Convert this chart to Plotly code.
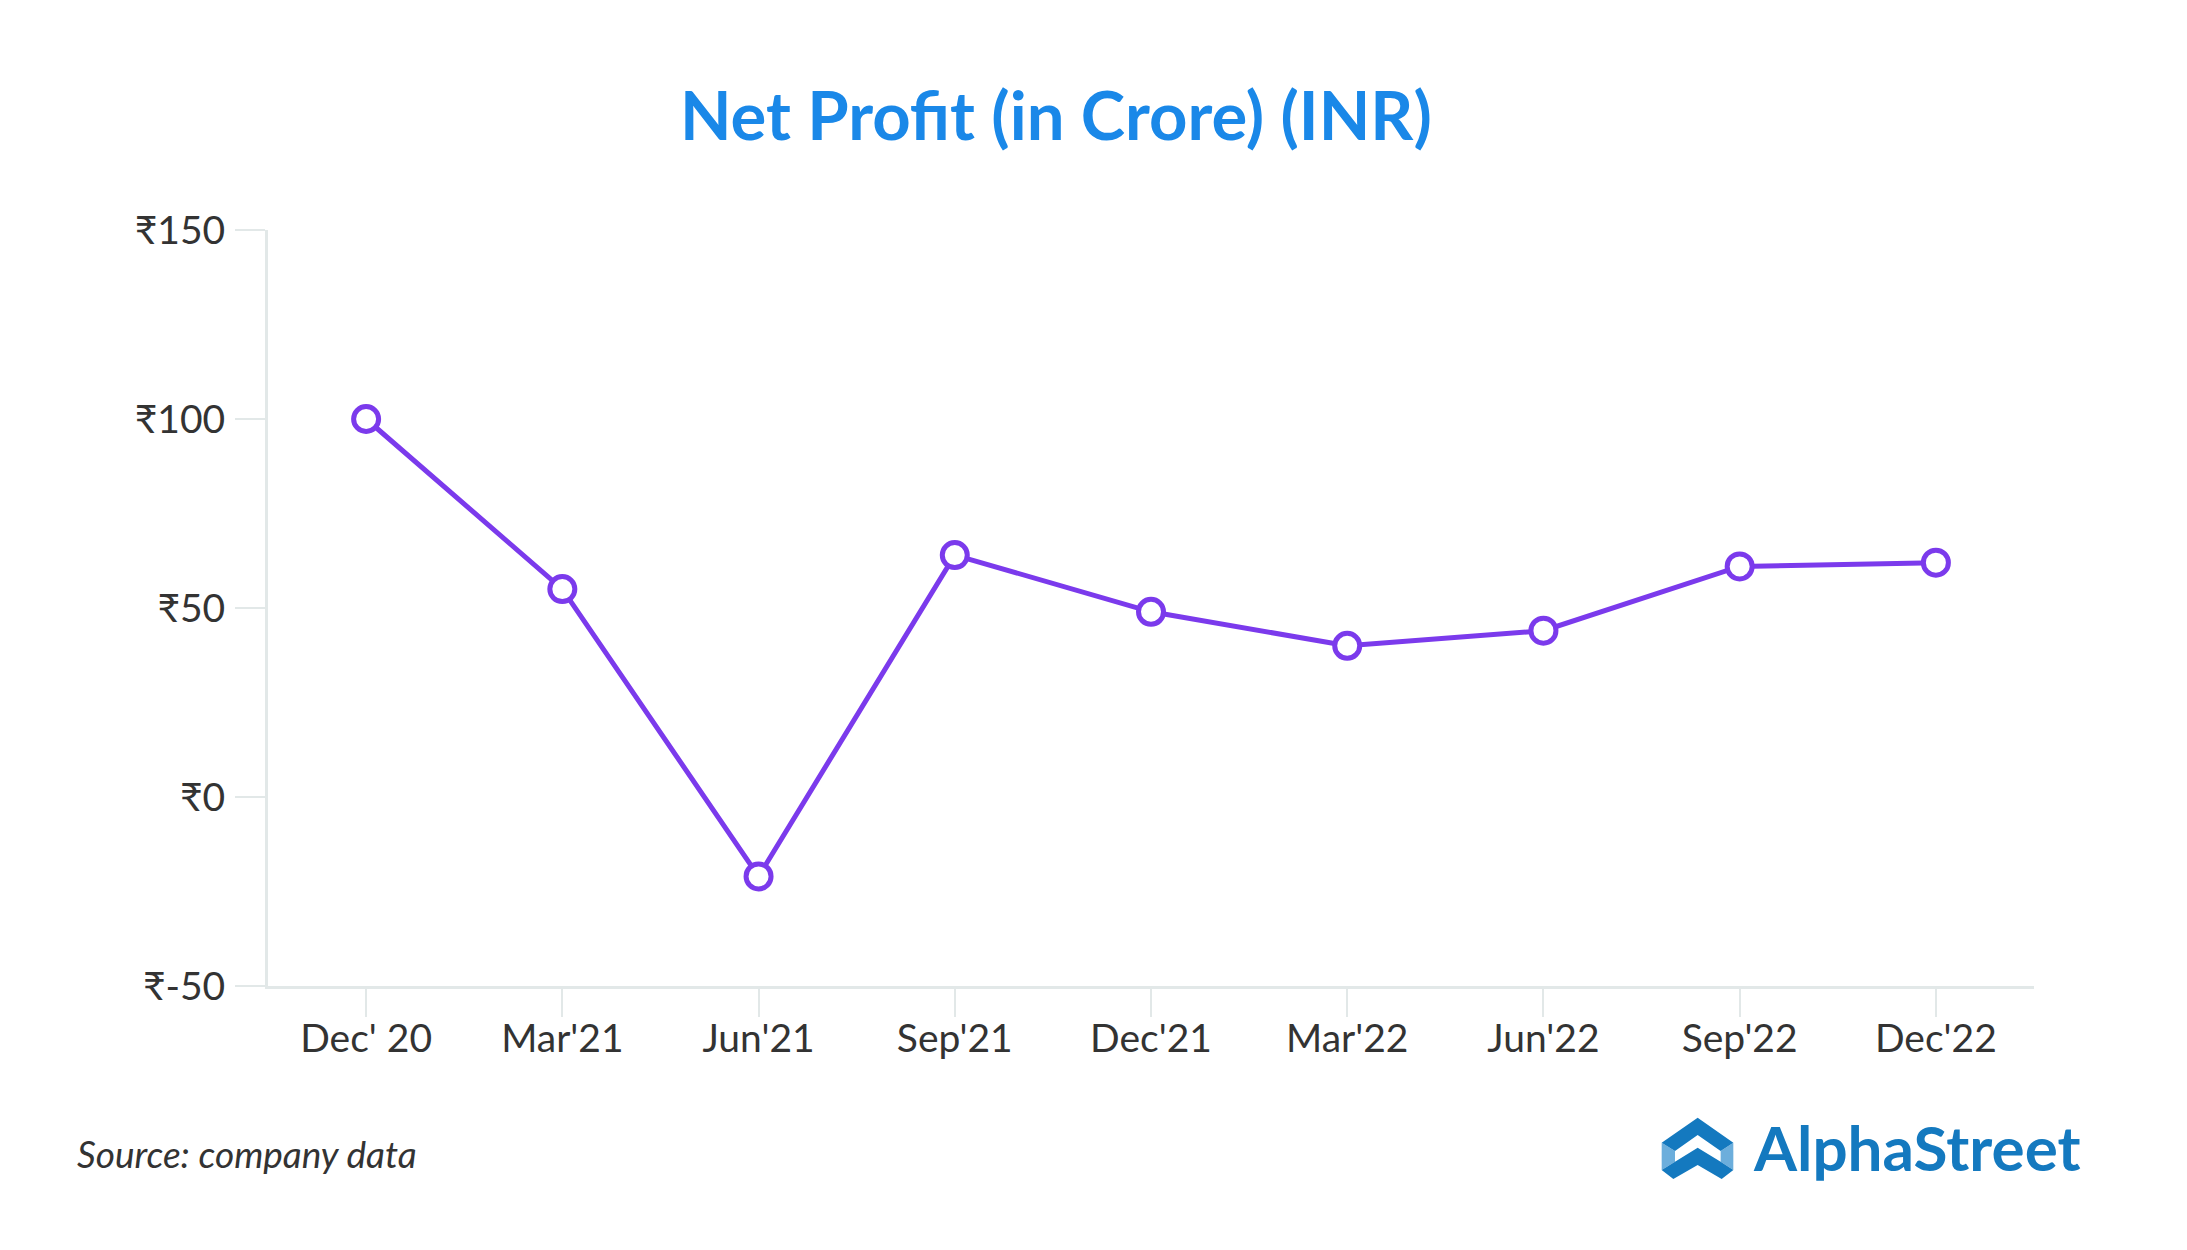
import plotly.graph_objects as go

# ---- data ----
quarters = ["Dec' 20", "Mar'21", "Jun'21", "Sep'21", "Dec'21", "Mar'22", "Jun'22", "Sep'22", "Dec'22"]
net_profit = [100, 55, -21, 64, 49, 40, 44, 61, 62]
y_tick_vals = [-50, 0, 50, 100, 150]
y_tick_text = ["₹-50", "₹0", "₹50", "₹100", "₹150"]

W, H = 2187, 1250
L, R, T, B = 268, 2034, 230, 986   # plot area in page pixels
OFF = 8                            # default body margin of the html page

def px(x):
    return (x - L) / (R - L)

def py(y):
    return (B - y) / (B - T)

fig = go.Figure()
fig.add_trace(go.Scatter(
    x=quarters, y=net_profit, mode="lines+markers",
    line=dict(color="#7B3AEC", width=5),
    marker=dict(size=25, color="white", line=dict(color="#7B3AEC", width=5)),
    cliponaxis=False, hoverinfo="skip",
))

axis_col = "#E2E8E8"
fig.update_layout(
    width=W - 2 * OFF, height=H - 2 * OFF,
    margin=dict(l=L - OFF, r=W - R - OFF, t=T - OFF, b=H - B - OFF),
    paper_bgcolor="white", plot_bgcolor="white",
    font=dict(family="Lato", color="#333333", size=39),
    showlegend=False,
    xaxis=dict(
        type="category", range=[-0.5, len(quarters) - 0.5],
        showgrid=False, zeroline=False,
        showline=True, linecolor=axis_col, linewidth=3,
        ticks="outside", ticklen=28, tickwidth=2, tickcolor=axis_col,
        tickfont=dict(size=39, color="#333333", family="Lato"),
        ticklabelstandoff=-12,
    ),
    yaxis=dict(
        range=[-50, 150], tickvals=y_tick_vals, ticktext=y_tick_text,
        showgrid=False, zeroline=False,
        showline=True, linecolor=axis_col, linewidth=3,
        ticks="outside", ticklen=30, tickwidth=2, tickcolor=axis_col,
        tickfont=dict(size=39, color="#333333", family="Lato"),
        ticklabelstandoff=2,
    ),
)

# title
fig.add_annotation(
    text="<b>Net Profit (in Crore) (INR)</b>", xref="paper", yref="paper",
    x=px(1056), y=py(114), xanchor="center", yanchor="middle", showarrow=False,
    font=dict(family="Lato", size=67, color="#1A88E8"),
)
# source
fig.add_annotation(
    text="<i>Source: company data</i>", xref="paper", yref="paper",
    x=px(75), y=py(1153), xanchor="left", yanchor="middle", showarrow=False,
    font=dict(family="Lato", size=37, color="#333333"),
)
# logo text
fig.add_annotation(
    text="<b>AlphaStreet</b>", xref="paper", yref="paper",
    x=px(1751), y=py(1147), xanchor="left", yanchor="middle", showarrow=False,
    font=dict(family="Lato", size=62, color="#1479BF"),
)

# logo icon (decoration)
ox, oy = 1650, 1105

def path(pts):
    s = ""
    for i, (a, b) in enumerate(pts):
        X = px(ox + a / 3)
        Y = py(oy + b / 3)
        s += ("M" if i == 0 else "L") + f"{X:.5f},{Y:.5f}"
    return s + "Z"

dark = "#1479BF"
light = "#6CAEDC"
upper = [(35, 113), (143, 38), (250, 113), (212, 138), (143, 90), (75, 138)]
lower = [(35, 195), (75, 170), (143, 128), (212, 170), (250, 195), (215, 222), (143, 180), (70, 222)]
left_side = [(35, 113), (75, 138), (75, 170), (35, 195)]
right_side = [(250, 113), (212, 138), (212, 170), (250, 195)]
for pts, col in [(left_side, light), (right_side, light), (upper, dark), (lower, dark)]:
    fig.add_shape(type="path", path=path(pts), xref="paper", yref="paper",
                  fillcolor=col, line=dict(width=0), layer="above")

fig.write_html("out.html")
